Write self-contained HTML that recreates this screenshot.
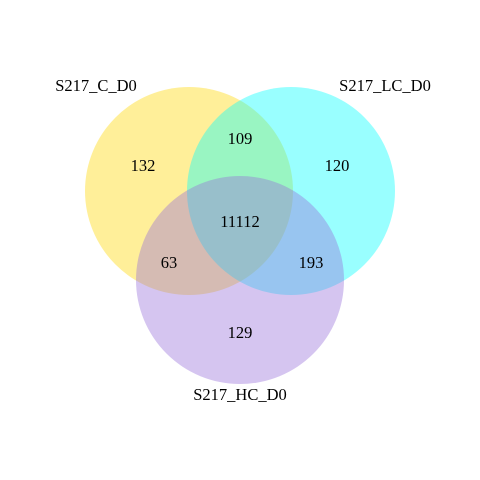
<!DOCTYPE html>
<html>
<head>
<meta charset="utf-8">
<style>
  html, body { margin: 0; padding: 0; background: #ffffff; }
  svg { display: block; }
  text { font-family: "Liberation Serif", serif; font-size: 16.5px; fill: #000; }
</style>
</head>
<body>
<svg id="chart" width="480" height="480" viewBox="0 0 480 480" xmlns="http://www.w3.org/2000/svg">
  <rect x="0" y="0" width="480" height="480" fill="#ffffff"/>
</svg>
<script>
const setNames = ["S217_C_D0", "S217_LC_D0", "S217_HC_D0"];
const setColors = ["rgb(255,215,0)", "rgb(0,255,255)", "rgb(150,110,217)"];
const regionNames = ["only-c", "only-lc", "only-hc", "c-lc", "c-hc", "lc-hc", "all"];
const regionCounts = [132, 120, 129, 109, 63, 193, 11112];

const svg = document.getElementById('chart');
const NS = "http://www.w3.org/2000/svg";
const circles = [
  {cx: 189, cy: 191, r: 104},
  {cx: 291, cy: 191, r: 104},
  {cx: 240, cy: 280, r: 104}
];
const setLabelPos = [[96, 91], [385, 91], [240, 400]];
const regionPos = [[143, 171], [337, 171], [240, 338], [240, 144], [169, 268], [311, 268], [240, 227]];

circles.forEach((c, i) => {
  const el = document.createElementNS(NS, 'circle');
  el.setAttribute('cx', c.cx);
  el.setAttribute('cy', c.cy);
  el.setAttribute('r', c.r);
  el.setAttribute('fill', setColors[i]);
  el.setAttribute('fill-opacity', '0.4');
  
  
  svg.appendChild(el);
});

setNames.forEach((n, i) => {
  const t = document.createElementNS(NS, 'text');
  t.setAttribute('x', setLabelPos[i][0]);
  t.setAttribute('y', setLabelPos[i][1]);
  t.setAttribute('text-anchor', 'middle');
  t.textContent = n;
  
  
  svg.appendChild(t);
});

regionCounts.forEach((v, i) => {
  const t = document.createElementNS(NS, 'text');
  t.setAttribute('x', regionPos[i][0]);
  t.setAttribute('y', regionPos[i][1]);
  t.setAttribute('text-anchor', 'middle');
  t.textContent = v;
  
  
  svg.appendChild(t);
});
</script>
</body>
</html>
